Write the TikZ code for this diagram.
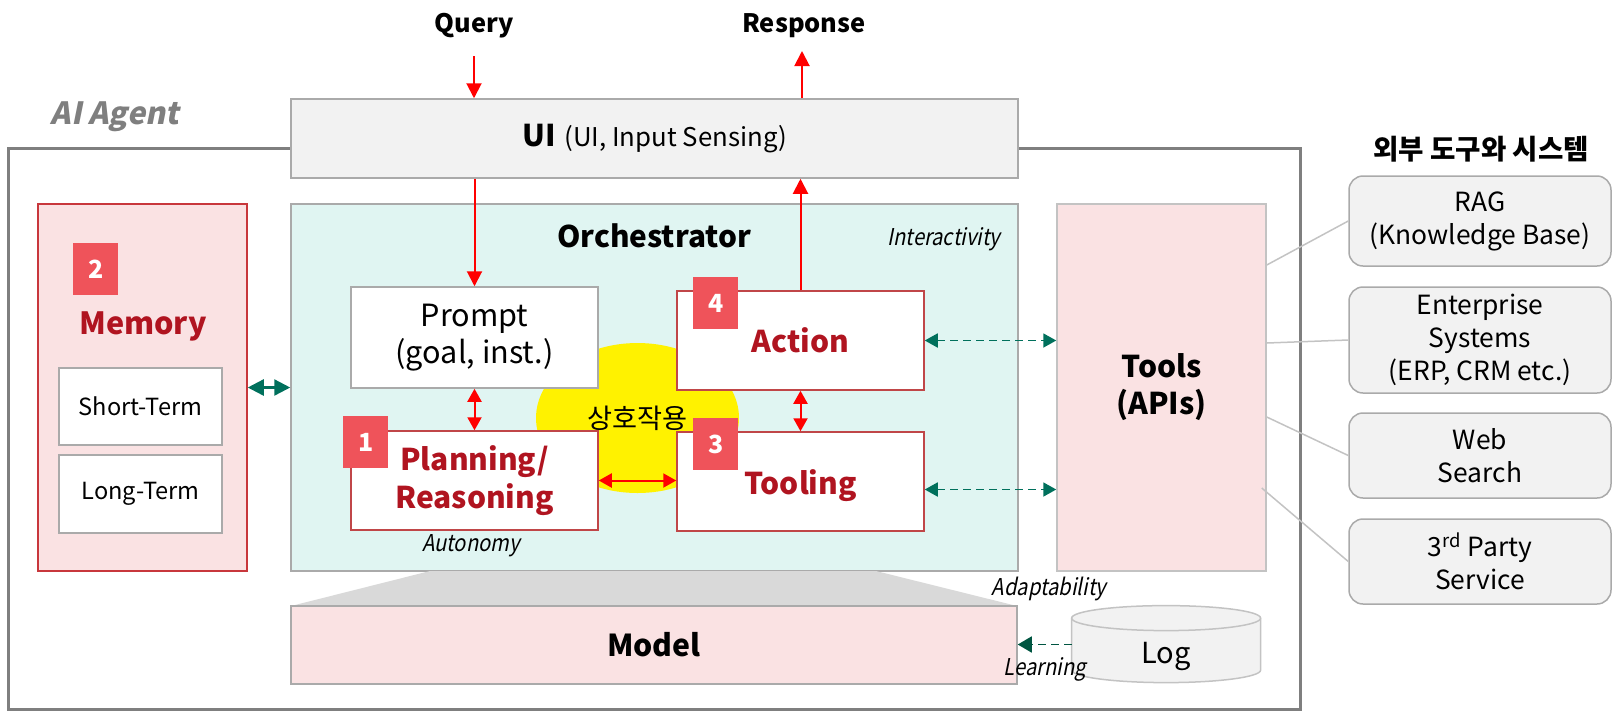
\documentclass[tikz,border=0pt]{standalone}
\usepackage{fontspec}
\setmainfont{Noto Sans CJK KR}
\newfontfamily\slantfont{Noto Sans CJK KR}[FakeSlant=0.2, FakeStretch=0.87]
\newfontfamily\agentfont{Noto Sans CJK KR}[FakeSlant=0.2]
\usepackage{tikz}
\usetikzlibrary{arrows.meta, positioning, shapes.geometric}
\definecolor{agentgray}{RGB}{127,127,127}
\definecolor{boxgray}{RGB}{170,170,170}
\definecolor{lightgray}{RGB}{195,195,195}
\definecolor{uifill}{RGB}{242,242,242}
\definecolor{orchfill}{RGB}{224,245,242}
\definecolor{pinkfill}{RGB}{250,226,227}
\definecolor{memborder}{RGB}{200,55,60}
\definecolor{stepborder}{RGB}{192,70,72}
\definecolor{darkred}{RGB}{176,20,32}
\definecolor{badgered}{RGB}{239,83,90}
\definecolor{tealarrow}{RGB}{0,112,92}
\definecolor{learngreen}{RGB}{0,85,65}
\definecolor{trapgray}{RGB}{217,217,217}
\tikzset{
    framenode/.style = {draw=agentgray, line width=1.5pt, rectangle, inner sep=0pt},
    plainnode/.style = {draw=boxgray, line width=0.75pt, rectangle, inner sep=0pt, fill=white},
    stepnode/.style = {draw=stepborder, line width=0.75pt, rectangle, inner sep=0pt, fill=white,
      text=darkred, font=\bfseries\fontsize{15}{19}\selectfont},
    badgenode/.style = {fill=badgered, text=white, rectangle, inner sep=0pt,
      minimum width=22.5pt, minimum height=26pt, font=\bfseries\fontsize{12.5}{14}\selectfont},
    extnode/.style = {draw=boxgray, fill=uifill, line width=0.75pt, rounded corners=7pt,
      minimum width=131pt, inner sep=0pt, font=\fontsize{13.2}{16.5}\selectfont},
    textnode/.style = {draw=none, fill=none, inner sep=0pt},
    notenode/.style = {draw=none, fill=none, inner sep=0pt, font=\slantfont\fontsize{11.6}{14}\selectfont},
    redlink/.style = {red, line width=1pt, -{Triangle[length=7.5pt, width=7.5pt]}},
    redboth/.style = {red, line width=1pt, {Triangle[length=6.5pt, width=7pt]}-{Triangle[length=6.5pt, width=7pt]}},
    greenboth/.style = {tealarrow, line width=1.2pt, {Triangle[length=8pt, width=8pt]}-{Triangle[length=8pt, width=8pt]}},
    dashboth/.style = {tealarrow, line width=0.9pt, dash pattern=on 4pt off 2.5pt,
      {Triangle[length=6.5pt, width=7pt]}-{Triangle[length=6.5pt, width=7pt]}},
    linkline/.style = {draw=lightgray, line width=0.75pt},
    every text node part/.style={align=center}
}

\begin{document}
\begin{tikzpicture}[x=0.5pt, y=-0.5pt]
    \useasboundingbox (0,0) rectangle (1613,714);

    % agent frame and ui
    \node [name=Agent, framenode, minimum width=646pt, minimum height=280.5pt] at (654,428.5) {};
    \node [name=AgentLabel, textnode, text=agentgray, font=\agentfont\bfseries\fontsize{15.3}{18}\selectfont] at (115,117) {AI Agent};
    \node [name=UI, plainnode, fill=uifill, minimum width=363.5pt, minimum height=39.5pt] at (654.5,138.5)
        {{\bfseries\fontsize{15}{18}\selectfont UI}\ \ {\fontsize{12.9}{15}\selectfont(UI, Input Sensing)}};
    \node [name=Query, textnode, font=\bfseries\fontsize{12.7}{16}\selectfont] at (474,26) {Query};
    \node [name=Response, textnode, font=\bfseries\fontsize{12.7}{16}\selectfont] at (804,26) {Response};
    \coordinate (QueryIn) at (474,56);
    \coordinate (ResponseOut) at (802,51);

    % memory
    \node [name=Memory, draw=memborder, fill=pinkfill, line width=0.75pt, inner sep=0pt,
        minimum width=104.5pt, minimum height=183.5pt] at (142.5,387.5) {};
    \node [name=MemoryTitle, textnode, text=darkred, font=\bfseries\fontsize{15.3}{17}\selectfont] at (143,326) {Memory};
    \node [name=Short, plainnode, minimum width=81.5pt, minimum height=38.5pt,
        font=\fontsize{11.8}{14}\selectfont] at (140.5,406.5) {Short-Term};
    \node [name=Long, plainnode, minimum width=81.5pt, minimum height=39pt,
        font=\fontsize{11.8}{14}\selectfont] at (140.5,494) {Long-Term};
    \node [name=num2, badgenode, at=(Memory.north west), xshift=29.25pt, yshift=-33pt] {2};

    % orchestrator
    \node [name=Orch, plainnode, fill=orchfill, minimum width=363.5pt, minimum height=183.5pt] at (654.5,387.5) {};
    \node [name=OrchTitle, textnode, font=\bfseries\fontsize{14.9}{18}\selectfont] at (654,236) {Orchestrator};
    \node [name=Interactivity, notenode] at (944,239) {Interactivity};
    \node [name=Interact, ellipse, fill=yellow, inner sep=0pt, minimum width=101.5pt, minimum height=75pt,
        font=\fontsize{13.6}{15}\selectfont] at (637.5,418) {상호작용};
    \node [name=Prompt, plainnode, minimum width=123.5pt, minimum height=50.5pt,
        font=\fontsize{15.3}{18.5}\selectfont] at (474.5,337.5) {Prompt\\(goal, inst.)};
    \node [name=Planning, stepnode, minimum width=123.5pt, minimum height=49.5pt] at (474.5,480.5) {Planning/\\Reasoning};
    \node [name=Action, stepnode, minimum width=123.5pt, minimum height=49.5pt] at (800.5,340.5) {Action};
    \node [name=Tooling, stepnode, minimum width=123.5pt, minimum height=49.5pt, text height=17pt] at (800.5,481.5) {Tooling};
    \node [name=num1, badgenode, at=(Planning.north west), xshift=7.75pt, yshift=-6pt] {1};
    \node [name=num4, badgenode, at=(Action.north west), xshift=19.75pt, yshift=-6.5pt] {4};
    \node [name=num3, badgenode, at=(Tooling.north west), xshift=19.75pt, yshift=-6.5pt] {3};
    \node [name=Autonomy, notenode] at (471,546) {Autonomy};

    % tools
    \node [name=Tools, draw=lightgray, fill=pinkfill, line width=0.75pt, inner sep=0pt,
        minimum width=104.5pt, minimum height=183.5pt, font=\bfseries\fontsize{15}{18.5}\selectfont]
        at (1161.5,387.5) {Tools\\(APIs)};

    % model and log
    \fill [trapgray] (430,571) -- (876,571) -- (1017,606) -- (291,606) -- cycle;
    \node [name=Model, plainnode, fill=pinkfill, minimum width=363pt, minimum height=39pt,
        font=\bfseries\fontsize{15.1}{18}\selectfont] at (654,645) {Model};
    \node [name=Log, textnode, minimum width=94.5pt, minimum height=38.5pt] at (1166.5,644.5) {};
    \filldraw [fill=uifill, draw=lightgray, line width=0.75pt]
        (Log.north west) ++(0,12.5) -- ++(0,52)
        arc [start angle=180, end angle=360, x radius=47.25pt, y radius=6.25pt] -- ++(0,-52)
        arc [start angle=0, end angle=180, x radius=47.25pt, y radius=6.25pt];
    \draw [lightgray, line width=0.75pt] (Log.north west) ++(0,12.5)
        arc [start angle=180, end angle=360, x radius=47.25pt, y radius=6.25pt];
    \node [name=LogText, textnode, font=\fontsize{14.5}{16}\selectfont] at (1166,656) {Log};
    \node [name=Adaptability, notenode] at (1049,589) {Adaptability};
    \node [name=Learning, notenode] at (1045,669) {Learning};

    % external systems
    \node [name=ExtTitle, textnode, font=\bfseries\fontsize{13.8}{15}\selectfont] at (1481,149) {외부 도구와 시스템};
    \node [name=RAG, extnode, minimum height=45pt] at (1480,221) {RAG\\(Knowledge Base)};
    \node [name=Enterprise, extnode, minimum height=53pt] at (1480,340) {Enterprise\\Systems\\(ERP, CRM etc.)};
    \node [name=Web, extnode, minimum height=42.5pt] at (1480,455.5) {Web\\Search};
    \node [name=Party, extnode, minimum height=42.5pt] at (1480,561.5) {3\textsuperscript{rd} Party\\Service};
    \draw [linkline] (Tools.east |- 0,265) -- (RAG.west);
    \draw [linkline] (Tools.east |- 0,343) -- (Enterprise.west);
    \draw [linkline] (Tools.east |- 0,417) -- (Web.west);
    \draw [linkline] ([xshift=-2.5pt]Tools.east |- 0,488) -- (Party.west);

    % connectors
    \draw [redlink] (QueryIn) -- (QueryIn |- UI.north);
    \draw [redlink] (UI.north -| ResponseOut) -- (ResponseOut);
    \draw [redlink] (UI.south -| Prompt.north) -- (Prompt.north);
    \draw [redlink] (Action.north) -- (UI.south -| Action.north);
    \draw [redboth] (Prompt.south) -- (Planning.north);
    \draw [redboth] (Action.south) -- (Tooling.north);
    \draw [redboth] (Planning.east) -- (Planning.east -| Tooling.west);
    \draw [greenboth] (Memory.east) -- (Memory.east -| Orch.west);
    \draw [dashboth] (Action.east) -- (Action.east -| Tools.west);
    \draw [dashboth] ([yshift=-4pt]Tooling.east) -- ([yshift=-4pt]Tooling.east -| Tools.west);
    \draw [learngreen, line width=0.9pt, dash pattern=on 4pt off 2.5pt, -{Triangle[length=7pt, width=8pt]}]
        (Log.west) -- (Log.west -| Model.east);
\end{tikzpicture}
\end{document}
